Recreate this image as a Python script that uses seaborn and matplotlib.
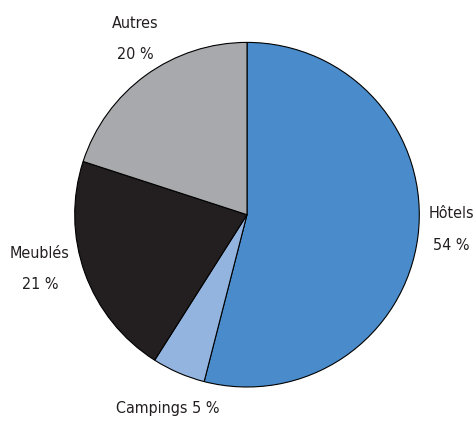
import numpy as np
import matplotlib
matplotlib.use("Agg")
import matplotlib.pyplot as plt
import seaborn as sns

# data
categories = ["Hôtels", "Campings", "Meublés", "Autres"]
shares = [54, 5, 21, 20]
colors = ["#4a8ccb", "#94b4e0", "#231f20", "#a7a9ac"]
labels = ["Hôtels\n54 %", "Campings 5 %", "Meublés\n21 %", "Autres\n20 %"]

sns.set_theme(style="white")
plt.rcParams['font.family'] = ['DejaVu Sans']
plt.rcParams['font.stretch'] = 'condensed'

fig = plt.figure(figsize=(4.77, 4.22), dpi=100)
ax = fig.add_axes([0, 0, 1, 1])

cx, cy, R = 247, 207.3, 172.3
# work in pixel units so the pie sits where it does in the reference
wedges, texts = ax.pie(shares, colors=colors, labels=labels,
                       startangle=90, counterclock=False,
                       center=(cx, cy), radius=R,
                       labeldistance=1.22,
                       wedgeprops={'edgecolor': 'black', 'linewidth': 0.8},
                       textprops={'fontsize': 11.5, 'color': '#231f20',
                                  'linespacing': 2.35})

# nudge labels (distance factor, angle shift in degrees)
tweaks = [(1.189, 3.05), (1.214, 1.2), (1.243, -5.1), (1.21, -3.5)]
for w, t, (d, da) in zip(wedges, texts, tweaks):
    mid = np.deg2rad((w.theta1 + w.theta2) / 2 + da)
    t.set_position((cx + d * R * np.cos(mid), cy + d * R * np.sin(mid)))
    t.set_ha('center')
    t.set_va('center')
    t.set_multialignment('center')

ax.set_xlim(0, 477)
ax.set_ylim(0, 422)
ax.set_aspect('equal')
ax.axis('off')

fig.savefig("out.png", dpi=100)
